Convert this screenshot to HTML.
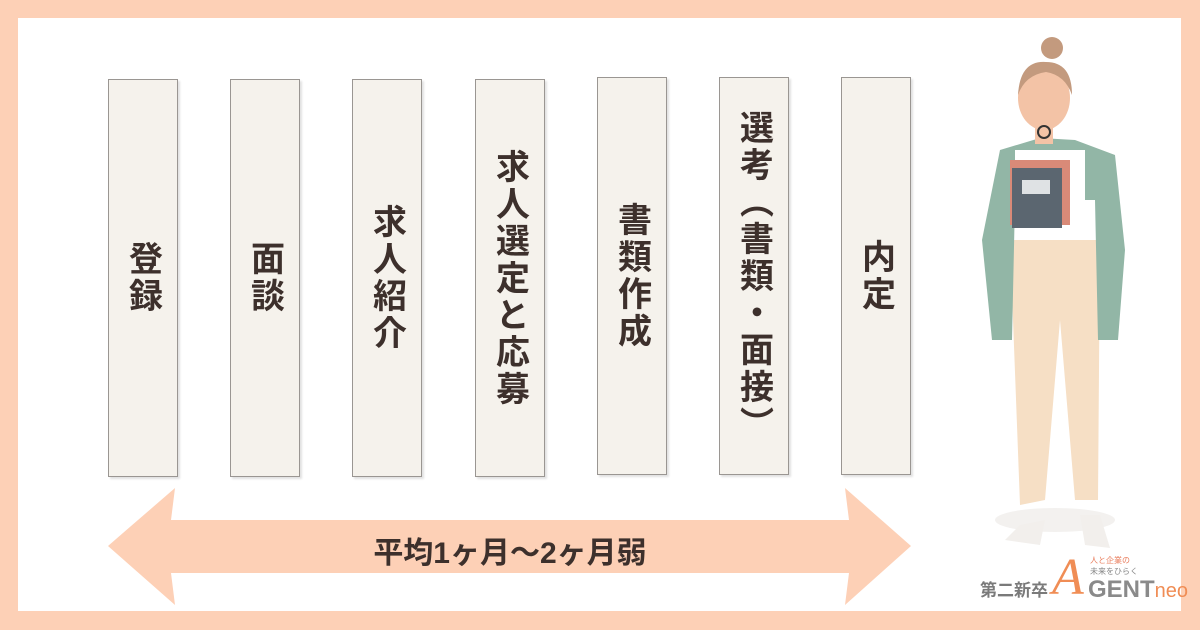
<!DOCTYPE html>
<html><head><meta charset="utf-8"><style>
body{margin:0;width:1200px;height:630px;background:#fdd0b6;position:relative;overflow:hidden;font-family:"Liberation Sans","Noto Sans CJK JP",sans-serif}
.in{position:absolute;left:18px;top:18px;width:1163px;height:593px;background:#fff}
.col{position:absolute;top:79px;width:68px;height:396px;background:#f5f2ec;border:1px solid #9a9692;box-shadow:2px 2px 2px rgba(0,0,0,.12);display:flex;align-items:center;justify-content:center}
.col span{writing-mode:vertical-rl;font-size:34px;font-weight:bold;color:#3d302c;letter-spacing:3px}
.at{position:absolute;left:300px;width:420px;top:528px;text-align:center;font-size:30px;font-weight:bold;color:#3d302c}
</style></head><body>
<div class="in"></div>
<div class="col" style="left:108px"><span>登録</span></div>
<div class="col" style="left:230px"><span>面談</span></div>
<div class="col" style="left:352px"><span>求人紹介</span></div>
<div class="col" style="left:475px"><span>求人選定と応募</span></div>
<div class="col" style="left:597px;top:77px"><span>書類作成</span></div>
<div class="col" style="left:719px;top:77px"><span>選考（書類・面接）</span></div>
<div class="col" style="left:841px;top:77px"><span>内定</span></div>
<svg style="position:absolute;left:0;top:0" width="1200" height="630">
<polygon points="108,546 175,488 171,520 849,520 845,488 911,546 845,605 849,573 171,573 175,605" fill="#fdd0b6"/>
<!-- person -->
<ellipse cx="1055" cy="520" rx="60" ry="12" fill="#f3f1ef"/>
<path d="M1020 525 L1005 540 L1040 545 L1045 520Z" fill="#f2efec"/>
<path d="M1080 515 L1085 545 L1110 548 L1100 515Z" fill="#f2efec"/>
<path d="M1010 240 L1100 240 L1098 500 L1075 500 L1060 320 L1045 500 L1020 505 Z" fill="#f6dfc5"/>
<path d="M1000 150 L1040 138 L1075 140 L1115 155 L1125 250 L1118 340 L1098 340 L1095 200 L1015 200 L1012 340 L992 340 L982 240 Z" fill="#92b6a6"/>
<rect x="1015" y="150" width="70" height="90" fill="#fff"/>
<rect x="1010" y="160" width="60" height="65" fill="#d98a78"/>
<rect x="1012" y="168" width="50" height="60" fill="#5b6670"/>
<rect x="1022" y="180" width="28" height="14" fill="#dfe2e4"/>
<rect x="1035" y="122" width="18" height="22" fill="#f3c3a6"/>
<ellipse cx="1044" cy="98" rx="26" ry="32" fill="#f3c3a6"/>
<path d="M1018 95 Q1020 60 1046 62 Q1072 62 1072 95 Q1065 75 1046 72 Q1025 75 1018 95Z" fill="#c39a7e"/>
<circle cx="1052" cy="48" r="11" fill="#c39a7e"/>
<circle cx="1044" cy="132" r="6" fill="none" stroke="#333" stroke-width="2"/>
</svg>
<div style="position:absolute;left:980px;top:576px;font-size:17px;font-weight:bold;color:#7a7a7a">第二新卒</div>
<div style="position:absolute;left:1052px;top:548px;font-size:52px;color:#f08d55;font-family:'Liberation Serif',serif;font-style:italic">A</div>
<div style="position:absolute;left:1090px;top:555px;font-size:8px;color:#e97b5a;line-height:11px">人と企業の<br><span style="color:#888">未来をひらく</span></div>
<div style="position:absolute;left:1088px;top:576px;font-size:24px;font-weight:bold;color:#8a8a8a">GENT<span style="font-weight:normal;color:#f08d55;font-size:20px">neo</span></div>
<div class="at">平均1ヶ月～2ヶ月弱</div>
</body></html>
